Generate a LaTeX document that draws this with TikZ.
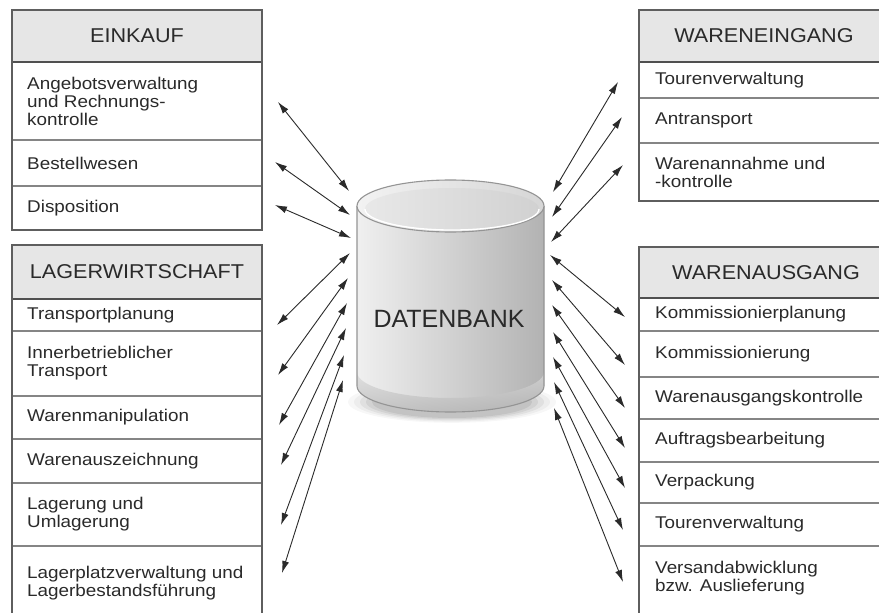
\documentclass[tikz,border=0pt]{standalone}
\usepackage{fontspec}
\setmainfont{Liberation Sans}
\newfontfamily\bodyf{Liberation Sans}[FakeStretch=1.11]
\newfontfamily\headf{Liberation Sans}[FakeStretch=1.08]
\usetikzlibrary{arrows.meta}
\definecolor{ink}{HTML}{2A2A2A}
\definecolor{frame}{HTML}{5E5E5E}
\definecolor{sep}{HTML}{858585}
\definecolor{headfill}{HTML}{E6E6E6}
\definecolor{cylline}{HTML}{949494}
\tikzset{
  boxline/.style={draw=frame, line width=1.2pt},
  rowline/.style={draw=sep, line width=1.3pt},
  headline/.style={draw=frame!85!black, line width=1.8pt},
  headtxt/.style={font=\headf\fontsize{20}{22}\selectfont, text=ink, inner sep=0pt},
  rowtxt/.style={font=\bodyf\fontsize{17}{18}\selectfont, text=ink, inner sep=0pt,
    anchor=west, align=left},
  link/.style={draw=ink, line width=0.9pt,
    {Latex[length=12pt,width=7pt]}-{Latex[length=12pt,width=7pt]}},
}
\begin{document}
\begin{tikzpicture}[x=1pt, y=-1pt]
\useasboundingbox (0,0) rectangle (879,613);
\fill[white] (0,0) rectangle (879,613);

% ---------- EINKAUF ----------
\fill[headfill] (12,10) rectangle (262,62);
\draw[rowline] (12,140) -- (262,140);
\draw[rowline] (12,186) -- (262,186);
\draw[headline] (12,62) -- (262,62);
\draw[boxline] (12,10) rectangle (262,230);
\node[headtxt] (einkauf) at (137,36) {EINKAUF};
\node[rowtxt] (ang) at (27,101) {Angebotsverwaltung\\und Rechnungs-\\kontrolle};
\node[rowtxt] (best) at (27,163) {Bestellwesen};
\node[rowtxt] (disp) at (27,208) {Disposition};

% ---------- LAGERWIRTSCHAFT ----------
\fill[headfill] (12,245) rectangle (262,299);
\foreach \yy in {331,396,439,483,546}
  \draw[rowline] (12,\yy) -- (262,\yy);
\draw[headline] (12,299) -- (262,299);
\draw[boxline] (12,245) rectangle (262,625);
\node[headtxt] (lager) at (137,272) {LAGERWIRTSCHAFT};
\node[rowtxt] (tp) at (27,315) {Transportplanung};
\node[rowtxt] (ib) at (27,363.5) {Innerbetrieblicher\\Transport};
\node[rowtxt] (wm) at (27,417.5) {Warenmanipulation};
\node[rowtxt] (wz) at (27,461) {Warenauszeichnung};
\node[rowtxt] (lu) at (27,514.5) {Lagerung und\\Umlagerung};
\node[rowtxt] (lp) at (27,583) {Lagerplatzverwaltung und\\Lagerbestandsführung};

% ---------- WARENEINGANG ----------
\fill[headfill] (639,10) rectangle (890,62);
\draw[rowline] (639,98) -- (890,98);
\draw[rowline] (639,143) -- (890,143);
\draw[headline] (639,62) -- (890,62);
\draw[boxline] (639,10) rectangle (890,201);
\node[headtxt] (eingang) at (764,36) {WARENEINGANG};
\node[rowtxt] (tv) at (655,80) {Tourenverwaltung};
\node[rowtxt] (at) at (655,120.5) {Antransport};
\node[rowtxt] (wk) at (655,172) {Warenannahme und\\-kontrolle};

% ---------- WARENAUSGANG ----------
\fill[headfill] (639,247) rectangle (890,298);
\foreach \yy in {331,377,419,462,503,546}
  \draw[rowline] (639,\yy) -- (890,\yy);
\draw[headline] (639,298) -- (890,298);
\draw[boxline] (639,247) rectangle (890,625);
\node[headtxt] (ausgang) at (766,272.5) {WARENAUSGANG};
\node[rowtxt] (kp) at (655,314.5) {Kommissionierplanung};
\node[rowtxt] (ko) at (655,354) {Kommissionierung};
\node[rowtxt] (wak) at (655,398) {Warenausgangskontrolle};
\node[rowtxt] (ab) at (655,440.5) {Auftragsbearbeitung};
\node[rowtxt] (vp) at (655,482.5) {Verpackung};
\node[rowtxt] (tv2) at (655,524.5) {Tourenverwaltung};
\node[rowtxt] (va) at (655,578) {Versandabwicklung\\bzw. Auslieferung};

% ---------- DATENBANK cylinder ----------
% soft shadow below the base
\foreach \r/\o in {104/0.03,98/0.04,92/0.05,86/0.06,80/0.07}
  \fill[black, opacity=\o] (452,402) ellipse [x radius=\r, y radius=\r*0.2];
% body
\shade[left color=black!6, middle color=black!12, right color=black!30]
  (357,206) -- (357,386) arc[start angle=180, end angle=0, x radius=93.5, y radius=26]
  -- (544,206) arc[start angle=0, end angle=180, x radius=93.5, y radius=26] -- cycle;
% darker band along the base
\shade[top color=black!14, bottom color=black!30, opacity=0.7]
  (357,372) arc[start angle=180, end angle=0, x radius=93.5, y radius=26]
  -- (544,386) arc[start angle=0, end angle=180, x radius=93.5, y radius=26] -- cycle;
\draw[cylline, line width=1.1pt]
  (357,206) -- (357,386) arc[start angle=180, end angle=0, x radius=93.5, y radius=26]
  -- (544,206);
% top face with rim
\shade[left color=black!5, right color=black!16, draw=cylline, line width=1.1pt]
  (450.5,206) ellipse [x radius=93.5, y radius=26];
\shade[left color=black!9, right color=black!18]
  (452,209) ellipse [x radius=87, y radius=21];
\draw[white, line width=1.3pt]
  (365,209) arc[start angle=180, end angle=0, x radius=87, y radius=21];
\node[font=\fontsize{25}{27}\selectfont, text=ink, inner sep=0pt] (db) at (449,319) {DATENBANK};

% ---------- connectors ----------
\foreach \n/\ax/\ay/\bx/\by in {
  a1/278/102/349/191, a2/275/162/350/215, a3/275/205/351/238,
  l1/277/325/350/253, l2/278/375/348/278, l3/279/425/347/303,
  l4/281/465/346/328, l5/281/525/344/355, l6/282/573/343/380,
  r1/618/82/553/192, r2/622/117/552/217, r3/623/165/551/242,
  b1/625/317/550/255, b2/625/365/552/280, b3/625/408/552/305,
  b4/625/448/553/332, b5/625/488/553/357, b6/623/530/554/382,
  b7/623/582/554/408}{
  \coordinate (o\n) at (\ax,\ay);
  \coordinate (d\n) at (\bx,\by);
  \draw[link] (o\n) -- (d\n);
}
\end{tikzpicture}
\end{document}
